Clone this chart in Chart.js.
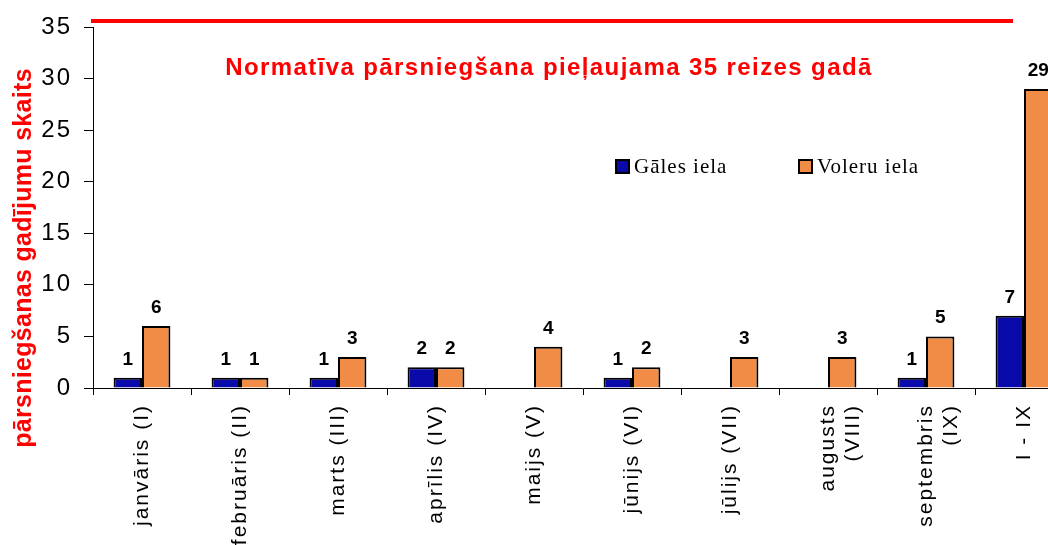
<!DOCTYPE html>
<html>
<head>
<meta charset="utf-8">
<script src="https://cdn.jsdelivr.net/npm/chart.js@4/dist/chart.umd.min.js"></script>
<style>
  html, body { margin: 0; padding: 0; background: #fff; overflow: hidden; }
  #wrap { width: 1075px; height: 545px; }
</style>
</head>
<body>
<div id="wrap"><canvas id="excessChart"></canvas></div>
<script>
const months = ['janvāris (I)', 'februāris (II)', 'marts (III)', 'aprīlis (IV)', 'maijs (V)',
    'jūnijs (VI)', 'jūlijs (VII)', ['augusts', '(VIII)'], ['septembris', '(IX)'], 'I - IX'];
const galesIela = [1, 1, 1, 2, 0, 1, 0, 0, 1, 7];
const voleruIela = [6, 1, 3, 2, 4, 2, 3, 3, 5, 29];
const yTicks = [0, 5, 10, 15, 20, 25, 30, 35];

const sansFont = "Arial, 'Liberation Sans', sans-serif";
const serifFont = "'Times New Roman', 'Liberation Serif', serif";

// extra drawing: red line, titles, legend, value labels
const extras = {
    id: 'extras',
    beforeDraw(chart) {
        chart.ctx.letterSpacing = '2px';
    },
    beforeDatasetsDraw(chart) {
        chart.ctx.letterSpacing = '0px';
    },
    afterDatasetsDraw(chart) {
        const ctx = chart.ctx;
        ctx.save();
        ctx.font = 'bold 19px ' + sansFont;
        ctx.fillStyle = '#000';
        ctx.textAlign = 'center';
        ctx.textBaseline = 'alphabetic';
        chart.data.datasets.forEach((ds, i) => {
            chart.getDatasetMeta(i).data.forEach((bar, j) => {
                if (ds.data[j] > 0) ctx.fillText(ds.data[j], bar.x, bar.y - 13);
            });
        });
        ctx.restore();
    },
    afterDraw(chart) {
        const ctx = chart.ctx;
        const x = chart.scales.x, y = chart.scales.y;
        ctx.save();
        // red line above the top of the scale
        const lineY = y.getPixelForValue(35) - 6;
        ctx.strokeStyle = '#ff0000';
        ctx.lineWidth = 4;
        ctx.beginPath();
        ctx.moveTo(chart.chartArea.left - 2, lineY);
        ctx.lineTo(x.getPixelForValue(9) - 11, lineY);
        ctx.stroke();

        // title
        ctx.fillStyle = '#ff0000';
        ctx.font = 'bold 24px ' + sansFont;
        ctx.letterSpacing = '1.4px';
        ctx.textAlign = 'center';
        ctx.textBaseline = 'alphabetic';
        ctx.fillText('Normatīva pārsniegšana pieļaujama 35 reizes gadā', 549, 75);

        // y axis title
        ctx.save();
        ctx.translate(24, 258);
        ctx.rotate(-Math.PI / 2);
        ctx.font = 'bold 25px ' + sansFont;
        ctx.letterSpacing = '0.3px';
        ctx.textBaseline = 'middle';
        ctx.fillText('pārsniegšanas gadījumu skaits', 0, 0);
        ctx.restore();

        // legend
        ctx.font = '21px ' + serifFont;
        ctx.letterSpacing = '1px';
        ctx.textAlign = 'left';
        ctx.textBaseline = 'middle';
        ctx.lineWidth = 2;
        ctx.strokeStyle = '#000';
        const items = [[616, chart.data.datasets[0]], [799, chart.data.datasets[1]]];
        items.forEach(([lx, ds]) => {
            ctx.fillStyle = ds.backgroundColor;
            ctx.fillRect(lx, 160, 13, 13);
            ctx.strokeRect(lx, 160, 13, 13);
            ctx.fillStyle = '#000';
            ctx.fillText(ds.label, lx + 18, 167);
        });
        ctx.restore();
    }
};

new Chart(document.getElementById('excessChart'), {
    type: 'bar',
    data: {
        labels: months,
        datasets: [{
            label: 'Gāles iela',
            data: galesIela,
            backgroundColor: '#0a0aaa',
            borderColor: '#000',
            borderWidth: ctx => ctx.raw > 0 ? 2 : 0
        }, {
            label: 'Voleru iela',
            data: voleruIela,
            backgroundColor: '#f08c46',
            borderColor: '#000',
            borderWidth: 2
        }]
    },
    options: {
        responsive: true,
        maintainAspectRatio: false,
        animation: false,
        categoryPercentage: 0.58,
        barPercentage: 1.0,
        layout: { padding: { top: 27, right: 2, left: 0, bottom: 0 } },
        plugins: {
            legend: { display: false },
            tooltip: { enabled: false }
        },
        scales: {
            x: {
                grid: { display: true, drawOnChartArea: false, drawTicks: true, tickLength: 7, color: '#000' },
                border: { display: true, color: '#000', width: 1 },
                ticks: {
                    autoSkip: false,
                    minRotation: 90,
                    maxRotation: 90,
                    padding: 9,
                    color: '#000',
                    font: { family: sansFont, size: 21 }
                },
                afterFit(scale) { scale.height = 157; }
            },
            y: {
                min: 0,
                max: 35,
                afterBuildTicks(scale) { scale.ticks = yTicks.map(v => ({ value: v })); },
                grid: { display: true, drawOnChartArea: false, drawTicks: true, tickLength: 9, color: '#000' },
                border: { display: true, color: '#000', width: 1 },
                ticks: {
                    padding: 12,
                    color: '#000',
                    font: { family: sansFont, size: 24 }
                },
                afterFit(scale) { scale.width = 93; }
            }
        }
    },
    plugins: [extras]
});
</script>
</body>
</html>
